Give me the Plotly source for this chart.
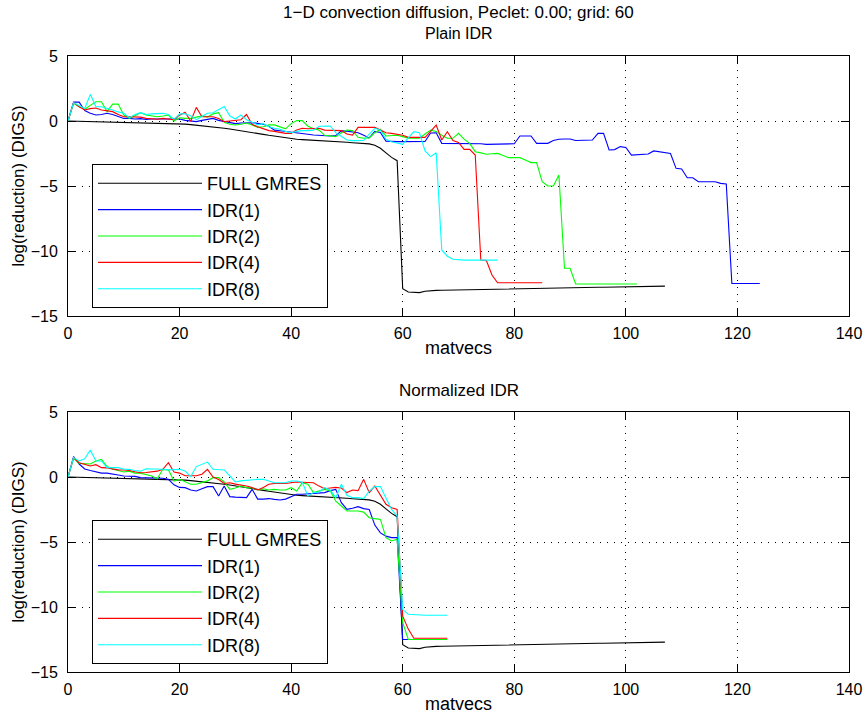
import plotly.graph_objects as go

# ---------------- data (log10 residual reduction vs. matvecs, x = 0,1,2,...) ----------------
series_names = ["FULL GMRES", "IDR(1)", "IDR(2)", "IDR(4)", "IDR(8)"]
series_colors = ["#000000", "#0000ff", "#00ff00", "#ff0000", "#00ffff"]

gmres = [
    0, -0.01, -0.02, -0.03, -0.04, -0.05, -0.06, -0.07, -0.08, -0.09,
    -0.10, -0.11, -0.12, -0.13, -0.14, -0.15, -0.16, -0.17, -0.18, -0.19,
    -0.20, -0.24, -0.28, -0.32, -0.37, -0.42, -0.46, -0.50, -0.56, -0.62,
    -0.68, -0.75, -0.82, -0.89, -0.96, -1.03, -1.10, -1.17, -1.24, -1.31,
    -1.37, -1.40, -1.43, -1.45, -1.47, -1.49, -1.52, -1.55, -1.58, -1.61,
    -1.64, -1.67, -1.70, -1.73, -1.76, -1.86, -2.10, -2.45, -2.80, -3.05,
    -12.9, -13.15, -13.2, -13.2, -13.1, -13.05, -13.03, -13.02, -13.01, -13.0,
    -12.99, -12.98, -12.98, -12.97, -12.96, -12.95, -12.95, -12.94, -12.93, -12.92,
    -12.91, -12.9, -12.9, -12.89, -12.88, -12.87, -12.87, -12.86, -12.85, -12.84,
    -12.83, -12.83, -12.82, -12.81, -12.8, -12.79, -12.79, -12.78, -12.77, -12.76,
    -12.75, -12.75, -12.74, -12.73, -12.72, -12.72, -12.71, -12.7,
]

plain_idr1 = [
    0, 1.45, 1.45, 0.8, 0.6, 0.46, 0.5, 0.59, 0.5, 0.35,
    0.2, 0.2, 0.15, 0.18, 0.12, 0.15, 0.15, 0.12, 0.1, 0.1,
    0.15, 0.05, 0.0, -0.05, 0.05, 0.15, 0.2, 0.05, -0.05, -0.1,
    -0.2, -0.15, -0.13, -0.13, -0.18, -0.25, -0.4, -0.7, -0.75, -0.8,
    -0.82, -0.88, -0.95, -1.02, -1.08, -1.12, -1.12, -1.15, -1.12, -0.76,
    -0.78, -0.82, -0.9, -1.1, -1.3, -0.8, -0.88, -1.55, -1.59, -1.59,
    -1.59, -1.59, -1.59, -1.59, -1.58, -0.92, -0.9, -1.72, -1.72, -1.72,
    -1.72, -1.72, -1.72, -1.72, -1.75, -1.8, -1.8, -1.8, -1.8, -1.8,
    -1.75, -1.15, -1.15, -1.15, -1.72, -1.72, -1.72, -1.5, -1.4, -1.38,
    -1.38, -1.5, -1.48, -1.46, -1.46, -0.95, -0.95, -2.23, -2.2, -1.97,
    -2.03, -2.62, -2.6, -2.56, -2.54, -2.3, -2.36, -2.45, -2.5, -3.64,
    -3.69, -4.36, -4.36, -4.67, -4.67, -4.67, -4.67, -4.8, -4.85, -12.5,
    -12.5, -12.5, -12.5, -12.5, -12.5,
]

plain_idr2 = [
    0, 1.36, 1.1, 0.9, 1.2, 1.48, 1.48, 0.72, 1.3, 1.3,
    0.46, 0.21, 0.4, 0.64, 0.46, 0.4, 0.33, 0.38, 0.46, 0.0,
    0.25, 0.2, 0.2, 0.3, 0.38, 0.3, 0.55, 0.64, -0.1, -0.25,
    -0.31, -0.25, -0.15, -0.3, -0.49, -0.44, -0.3, -0.3, -0.44, -0.6,
    -0.2, 0.03, 0.03, -0.4, -0.6, -0.7, -1.1, -1.15, -1.2, -0.9,
    -0.7, -0.74, -1.25, -1.33, -1.3, -0.9, -0.64, -1.15, -1.1, -1.1,
    -1.2, -1.33, -1.33, -1.33, -1.0, -0.7, -0.8, -1.1, -1.33, -1.33,
    -0.95, -1.4, -1.72, -2.36, -2.45, -2.56, -2.52, -2.49, -2.65, -2.82,
    -2.82, -2.82, -3.0, -3.2, -3.2, -4.67, -5.0, -5.0, -4.15, -11.33,
    -11.33, -12.54, -12.54, -12.54, -12.54, -12.54, -12.54, -12.54, -12.54, -12.54,
    -12.54, -12.54, -12.54,
]

plain_idr4 = [
    0, 1.41, 1.1, 0.85, 0.95, 1.0, 0.85, 0.8, 0.72, 0.5,
    0.33, 0.33, 0.33, 0.3, 0.2, 0.15, 0.13, 0.2, 0.15, 0.1,
    0.45, 0.67, -0.02, 1.05, 0.33, 0.33, 0.33, 0.2, -0.05, 0.0,
    0.03, 0.1, 0.5, -0.25, -0.45, -0.6, -0.74, -0.8, -0.9, -0.95,
    -0.95, -0.7, -0.56, -0.6, -0.58, -0.56, -0.7, -0.7, -0.72, -0.74,
    -1.0, -1.08, -0.49, -0.49, -0.47, -0.49, -0.7, -0.9, -0.95, -1.0,
    -1.1, -1.26, -1.26, -1.26, -1.26, -0.8, -0.31, -1.46, -0.82, -1.51,
    -1.65, -2.18, -2.18, -2.62, -10.7, -10.74, -11.85, -12.44, -12.44, -12.44,
    -12.44, -12.44, -12.44, -12.44, -12.44, -12.44,
]

plain_idr8 = [
    0, 1.4, 1.2, 0.97, 2.05, 1.1, 1.1, 1.0, 0.85, 0.7,
    0.59, 0.26, 0.5, 0.64, 0.5, 0.55, 0.59, 0.59, 0.5, 0.13,
    0.55, 0.55, 0.4, 0.1, 0.35, 0.6, 0.64, 0.9, 1.12, 0.4,
    0.15, 0.46, 0.1, -0.1, -0.3, -0.2, -0.45, -0.56, -0.64, -0.8,
    -0.9, -0.8, -0.74, -0.74, -0.7, -0.4, -0.38, -0.38, -0.9, -1.2,
    -1.46, -1.51, -1.51, -1.5, -1.0, -0.56, -0.7, -1.4, -1.59, -1.7,
    -1.8, -1.3, -0.82, -0.9, -2.3, -2.74, -2.44, -9.92, -10.4, -10.64,
    -10.68, -10.7, -10.7, -10.7, -10.7, -10.7, -10.7, -10.7,
]

norm_idr1 = [
    0, 1.57, 1.0, 0.62, 0.5, 0.38, 0.3, 0.3, 0.2, 0.15,
    0.08, 0.08, 0.05, -0.05, -0.05, -0.05, -0.05, -0.1, -0.18, -0.6,
    -0.8, -0.82, -1.0, -1.08, -0.9, -0.74, -0.74, -1.46, -0.69, -1.51,
    -1.55, -1.57, -1.59, -0.95, -1.7, -1.7, -1.66, -1.72, -1.77, -1.7,
    -1.5, -1.33, -1.33, -1.3, -1.28, -1.25, -1.2, -1.05, -0.95, -1.97,
    -2.49, -2.4, -2.28, -2.43, -2.5, -3.7, -4.3, -4.55, -4.66, -4.66,
    -12.5, -12.5,
]

norm_idr2 = [
    0, 1.44, 1.05, 1.0, 1.0, 1.23, 1.36, 0.8, 0.6, 0.5,
    0.38, 0.45, 0.3, 0.3, 0.2, 0.08, -0.13, 0.59, 0.55, -0.31,
    -0.18, -0.4, -0.56, -0.56, -0.4, -0.3, -0.05, -0.05, -0.38, -0.95,
    -0.85, -0.69, -0.82, -0.85, -1.0, -0.9, -1.0, -0.95, -1.0, -1.0,
    -0.82, -1.08, -0.44, -0.56, -1.2, -1.1, -0.95, -1.05, -1.85, -2.23,
    -2.62, -2.62, -2.62, -2.7, -3.13, -3.2, -3.26, -4.66, -4.92, -4.79,
    -11.2, -12.5, -12.5, -12.5, -12.5, -12.5, -12.5, -12.5, -12.5,
]

norm_idr4 = [
    0, 1.5, 1.1, 0.95, 0.85, 0.95, 0.72, 0.7, 0.6, 0.55,
    0.54, 0.5, 0.4, 0.33, 0.35, 0.4, 0.45, 0.59, 1.1, 0.38,
    0.3, 0.1, 0.08, 0.1, 0.21, 0.59, 0.0, -0.2, -0.5, -0.44,
    -0.55, -0.6, -0.69, -0.8, -1.0, -0.8, -0.56, -0.5, -0.5, -0.5,
    -0.44, -0.38, -0.4, -0.42, -0.44, -0.7, -0.9, -0.85, -0.8, -0.85,
    -1.2, -1.0, -1.05, -0.18, -1.2, -0.69, -1.4, -2.1, -2.36, -2.49,
    -10.7, -11.7, -12.4, -12.4, -12.4, -12.4, -12.4, -12.4, -12.4,
]

norm_idr8 = [
    0, 1.5, 1.23, 1.4, 2.08, 1.23, 1.23, 0.72, 0.72, 0.72,
    0.6, 0.59, 0.5, 0.45, 0.64, 0.64, 0.64, 0.6, 0.55, 0.55,
    0.59, 0.46, 0.03, 0.8, 1.0, 1.15, 0.59, 0.59, 0.54, 0.08,
    -0.38, -0.3, -0.25, -0.18, -0.18, -0.18, -0.3, -0.44, -0.44, -0.44,
    -0.31, -0.31, -0.4, -1.46, -1.2, -1.15, -0.82, -1.0, -1.59, -0.56,
    -1.41, -1.59, -1.59, -1.66, -1.08, -0.74, -0.74, -1.59, -2.49, -3.0,
    -10.2, -10.56, -10.6, -10.64, -10.64, -10.64, -10.64, -10.64, -10.64,
]

x_ticks = [0, 20, 40, 60, 80, 100, 120, 140]
y_ticks = [-15, -10, -5, 0, 5]
main_title = "1\u2212D convection diffusion, Peclet: 0.00; grid: 60"
top_title = "Plain IDR"
bottom_title = "Normalized IDR"
x_label = "matvecs"
y_label = "log(reduction) (DIGS)"

top_data = [gmres, plain_idr1, plain_idr2, plain_idr4, plain_idr8]
bottom_data = [gmres, norm_idr1, norm_idr2, norm_idr4, norm_idr8]

FONT = "Liberation Sans, Arial, Helvetica, sans-serif"

fig = go.Figure()
for data, xa, ya, lg in [(top_data, "x", "y", "legend"),
                         (bottom_data, "x2", "y2", "legend2")]:
    for name, color, ys in zip(series_names, series_colors, data):
        fig.add_trace(go.Scatter(
            x=list(range(len(ys))), y=ys, mode="lines", name=name,
            line=dict(color=color, width=1.1),
            xaxis=xa, yaxis=ya, legend=lg, showlegend=True,
        ))

W, H = 865, 715
ML, MR, MT, MB = 68, 16, 56, 43
PH = H - MT - MB  # 616


def py(pix):
    """pixel row -> paper y"""
    return (H - MB - pix) / PH


axis_common = dict(
    showline=True, linecolor="black", linewidth=1, mirror="ticks",
    ticks="inside", ticklen=8, tickcolor="black", tickwidth=1,
    showgrid=True, gridcolor="black", gridwidth=1, griddash="1px,6px",
    zeroline=False, tickfont=dict(size=16, color="black", family=FONT),
)

xaxis = dict(axis_common, range=[0, 140], tickvals=x_ticks, ticklabelstandoff=3,
             title=dict(text=x_label, font=dict(size=18, color="black", family=FONT), standoff=0))
yaxis = dict(axis_common, range=[-15, 5], tickvals=y_ticks, ticklabelstandoff=6,
             title=dict(text=y_label, font=dict(size=17, color="black", family=FONT), standoff=1))

legend_common = dict(
    xanchor="left", yanchor="bottom", bgcolor="white", bordercolor="black", borderwidth=1,
    font=dict(size=18, color="black", family=FONT), itemwidth=104, tracegroupgap=0,
)

fig.update_layout(
    width=W, height=H,
    margin=dict(l=ML, r=MR, t=MT, b=MB, autoexpand=False),
    paper_bgcolor="white", plot_bgcolor="white",
    font=dict(family=FONT, color="black"),
    xaxis=dict(xaxis, domain=[0, 1], anchor="y"),
    yaxis=dict(yaxis, domain=[py(316), 1], anchor="x"),
    xaxis2=dict(xaxis, domain=[0, 1], anchor="y2"),
    yaxis2=dict(yaxis, domain=[0, py(412)], anchor="x2"),
    legend=dict(legend_common, x=(92 - ML) / (W - ML - MR), y=py(308)),
    legend2=dict(legend_common, x=(92 - ML) / (W - ML - MR), y=py(664)),
    annotations=[
        dict(text=main_title, x=0.5, y=py(12), xref="paper", yref="paper",
             showarrow=False, yanchor="middle", font=dict(size=17, color="black", family=FONT)),
        dict(text=top_title, x=0.5, y=py(34), xref="paper", yref="paper",
             showarrow=False, yanchor="middle", font=dict(size=16, color="black", family=FONT)),
        dict(text=bottom_title, x=0.5, y=py(391), xref="paper", yref="paper",
             showarrow=False, yanchor="middle", font=dict(size=17, color="black", family=FONT)),
    ],
    showlegend=True,
)

fig.write_html("out.html")
